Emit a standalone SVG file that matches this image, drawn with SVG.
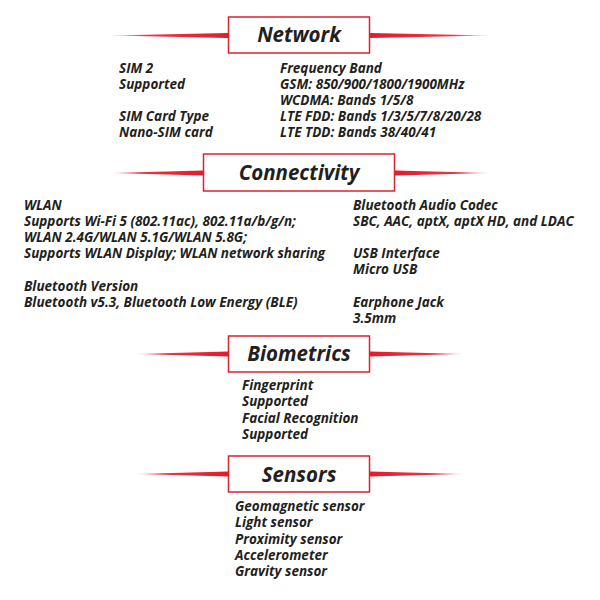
<svg xmlns="http://www.w3.org/2000/svg" width="600" height="600" viewBox="0 0 600 600">
<defs>
<linearGradient id="gl" x1="0" y1="0" x2="1" y2="0">
<stop offset="0" stop-color="#e8212e" stop-opacity="0.2"/>
<stop offset="0.3" stop-color="#e8212e" stop-opacity="0.9"/>
<stop offset="1" stop-color="#e31b2b"/>
</linearGradient>
<linearGradient id="gr" x1="1" y1="0" x2="0" y2="0">
<stop offset="0" stop-color="#e8212e" stop-opacity="0.2"/>
<stop offset="0.3" stop-color="#e8212e" stop-opacity="0.9"/>
<stop offset="1" stop-color="#e31b2b"/>
</linearGradient>
</defs>
<style>
.t{font-family:"Open Sans","Liberation Sans",sans-serif;font-style:italic;font-weight:700;font-size:13.5px;fill:#231f20}
.h{font-family:"Open Sans","Liberation Sans",sans-serif;font-style:italic;font-weight:700;font-size:20.5px;fill:#231f20;text-anchor:middle}
.box{fill:#fff;stroke:#d9232f;stroke-width:1.5}
.ll{fill:url(#gl)}
.lr{fill:url(#gr)}
</style>
<rect width="600" height="600" fill="#fff"/>
<g id="connectors">
<polygon class="ll" points="110,35.5 228,33 228,38"/>
<polygon class="lr" points="370,33 370,38 490,35.5"/>
<polygon class="ll" points="110,173 203,170.5 203,175.5"/>
<polygon class="lr" points="395,170.5 395,175.5 490,173"/>
<polygon class="ll" points="135,354 228,351.5 228,356.5"/>
<polygon class="lr" points="370,351.5 370,356.5 465,354"/>
<polygon class="ll" points="135,474 228,471.5 228,476.5"/>
<polygon class="lr" points="370,471.5 370,476.5 465,474"/>
</g>
<g id="network">
<rect class="box" x="228.5" y="17" width="141" height="36"/>
<text class="h" x="299" y="42">Network</text>
<text class="t" x="119" y="73">SIM 2</text>
<text class="t" x="119" y="89">Supported</text>
<text class="t" x="119" y="121">SIM Card Type</text>
<text class="t" x="119" y="137">Nano-SIM card</text>
<text class="t" x="280" y="73">Frequency Band</text>
<text class="t" x="280" y="89">GSM: 850/900/1800/1900MHz</text>
<text class="t" x="280" y="105">WCDMA: Bands 1/5/8</text>
<text class="t" x="280" y="121">LTE FDD: Bands 1/3/5/7/8/20/28</text>
<text class="t" x="280" y="137">LTE TDD: Bands 38/40/41</text>
</g>
<g id="connectivity">
<rect class="box" x="203.5" y="154" width="191" height="37"/>
<text class="h" x="299" y="180">Connectivity</text>
<text class="t" x="24" y="210">WLAN</text>
<text class="t" x="24" y="226">Supports Wi-Fi 5 (802.11ac), 802.11a/b/g/n;</text>
<text class="t" x="24" y="242">WLAN 2.4G/WLAN 5.1G/WLAN 5.8G;</text>
<text class="t" x="24" y="258">Supports WLAN Display; WLAN network sharing</text>
<text class="t" x="24" y="291">Bluetooth Version</text>
<text class="t" x="24" y="307">Bluetooth v5.3, Bluetooth Low Energy (BLE)</text>
<text class="t" x="353" y="210">Bluetooth Audio Codec</text>
<text class="t" x="353" y="226">SBC, AAC, aptX, aptX HD, and LDAC</text>
<text class="t" x="353" y="258">USB Interface</text>
<text class="t" x="353" y="274">Micro USB</text>
<text class="t" x="353" y="307">Earphone Jack</text>
<text class="t" x="353" y="323">3.5mm</text>
</g>
<g id="biometrics">
<rect class="box" x="228.5" y="336" width="141" height="36"/>
<text class="h" x="299" y="361">Biometrics</text>
<text class="t" x="242" y="390">Fingerprint</text>
<text class="t" x="242" y="406">Supported</text>
<text class="t" x="242" y="423">Facial Recognition</text>
<text class="t" x="242" y="439">Supported</text>
</g>
<g id="sensors">
<rect class="box" x="228.5" y="456" width="141" height="36"/>
<text class="h" x="299" y="482">Sensors</text>
<text class="t" x="235" y="511">Geomagnetic sensor</text>
<text class="t" x="235" y="527">Light sensor</text>
<text class="t" x="235" y="544">Proximity sensor</text>
<text class="t" x="235" y="560">Accelerometer</text>
<text class="t" x="235" y="576">Gravity sensor</text>
</g>
</svg>
